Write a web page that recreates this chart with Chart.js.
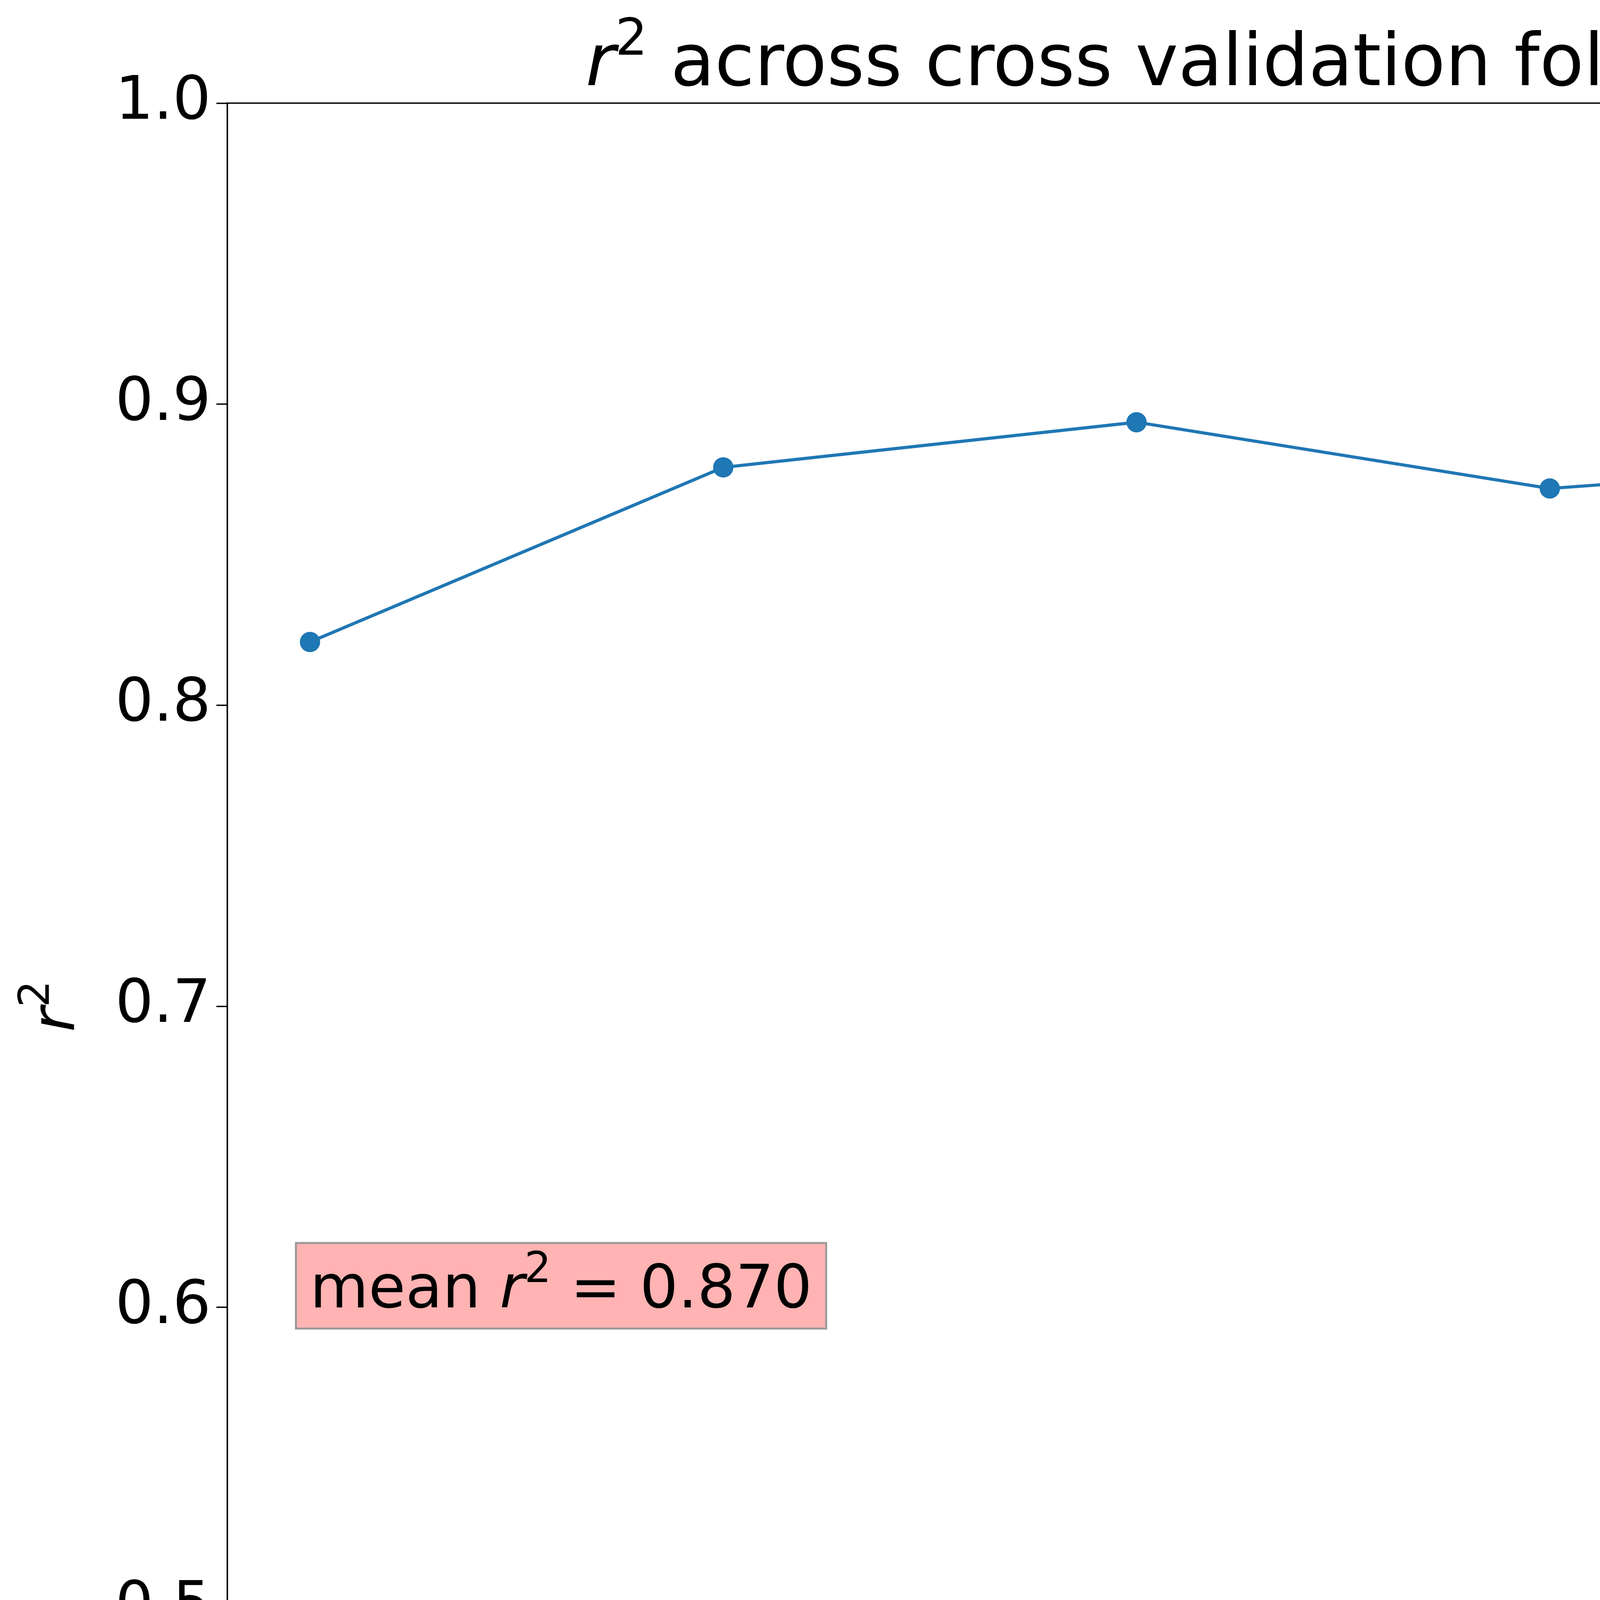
<!DOCTYPE html>
<html>
<head>
<meta charset="utf-8">
<script src="https://cdn.jsdelivr.net/npm/chart.js@4/dist/chart.umd.min.js"></script>
<style>
  html, body { margin: 0; padding: 0; background: #fff; overflow: hidden; }
  #wrap { width: 5289px; height: 5359px; }
  #myChart { width: 5289px !important; height: 5359px !important; display: block; }
</style>
</head>
<body>
<div id="wrap"><canvas id="myChart" width="5289" height="5359"></canvas></div>
<script>
// data
const folds = [0, 1, 2, 3, 4];
const r2Values = [0.821, 0.879, 0.894, 0.872, 0.882];
const xTicks = [0, 1, 2, 3, 4];
const yTicks = [0.4, 0.5, 0.6, 0.7, 0.8, 0.9, 1.0];
const meanLabel = ' = 0.870';

const FONT = '"DejaVu Sans", sans-serif';
const BASE = 154;

// draws text with italic r and superscript 2, like mathtext
const drawMath = (ctx, parts, x, y, size, align) => {
  const fontFor = (p) => {
    const s = p.sup ? size * 0.7 : size;
    return (p.it ? 'italic ' : '') + s + 'px ' + FONT;
  };
  let total = 0;
  parts.forEach((p) => { ctx.font = fontFor(p); total += ctx.measureText(p.t).width; });
  let cx = align === 'center' ? x - total / 2 : x;
  ctx.textAlign = 'left';
  ctx.textBaseline = 'alphabetic';
  ctx.fillStyle = '#000';
  parts.forEach((p) => {
    ctx.font = fontFor(p);
    ctx.fillText(p.t, cx, p.sup ? y - size * 0.42 : y);
    cx += ctx.measureText(p.t).width;
  });
  return total;
};

const extras = {
  id: 'extras',
  afterDraw(chart) {
    const ctx = chart.ctx;
    const a = chart.chartArea;
    const xs = chart.scales.x, ys = chart.scales.y;
    ctx.save();
    // frame
    ctx.strokeStyle = '#000';
    ctx.lineWidth = 3.5;
    ctx.strokeRect(a.left, a.top, a.right - a.left, a.bottom - a.top);

    // title
    drawMath(ctx, [{t: 'r', it: true}, {t: '2', sup: true}, {t: ' across cross validation folds'}],
      (a.left + a.right) / 2, 218, 185, 'center');

    // x label
    drawMath(ctx, [{t: 'Cross validation folds'}], (a.left + a.right) / 2, 5270, BASE, 'center');

    // y label
    ctx.save();
    ctx.translate(190, (a.top + a.bottom) / 2);
    ctx.rotate(-Math.PI / 2);
    drawMath(ctx, [{t: 'r', it: true}, {t: '2', sup: true}], 0, 0, BASE, 'center');
    ctx.restore();

    // mean annotation
    const parts = [{t: 'mean '}, {t: 'r', it: true}, {t: '2', sup: true}, {t: meanLabel}];
    const tx = xs.getPixelForValue(0);
    const ty = ys.getPixelForValue(0.6);
    let w = 0;
    parts.forEach((p) => {
      ctx.font = (p.it ? 'italic ' : '') + (p.sup ? BASE * 0.7 : BASE) + 'px ' + FONT;
      w += ctx.measureText(p.t).width;
    });
    const pad = 36;
    const boxTop = ty - BASE * 0.9 - pad + 10;
    const boxBot = ty + BASE * 0.12 + pad;
    ctx.fillStyle = '#ffb3b3';
    ctx.fillRect(tx - pad, boxTop, w + 2 * pad, boxBot - boxTop);
    ctx.strokeStyle = '#999';
    ctx.lineWidth = 5;
    ctx.strokeRect(tx - pad, boxTop, w + 2 * pad, boxBot - boxTop);
    drawMath(ctx, parts, tx, ty, BASE, 'left');
    ctx.restore();
  }
};

const ctx = document.getElementById('myChart');

new Chart(ctx, {
  type: 'line',
  data: {
    datasets: [{
      data: folds.map((f, i) => ({x: f, y: r2Values[i]})),
      borderColor: '#1f77b4',
      backgroundColor: '#1f77b4',
      borderWidth: 8,
      pointRadius: 26,
      pointBorderWidth: 0,
      tension: 0
    }]
  },
  options: {
    responsive: false,
    devicePixelRatio: 1,
    animation: false,
    layout: { padding: { top: 264, right: 52, left: 0, bottom: 0 } },
    plugins: { legend: { display: false }, tooltip: { enabled: false } },
    scales: {
      x: {
        type: 'linear',
        min: -0.2,
        max: 4.2,
        afterBuildTicks: (s) => { s.ticks = xTicks.map((v) => ({value: v})); },
        afterFit: (s) => { s.height = 471; },
        grid: { drawOnChartArea: false, drawTicks: true, tickLength: 28, tickColor: '#000', tickWidth: 3.5 },
        border: { display: true, color: '#000', width: 3.5 },
        ticks: { color: '#000', font: { family: FONT, size: BASE }, padding: 14, maxRotation: 0 }
      },
      y: {
        type: 'linear',
        min: 0.4,
        max: 1.0,
        afterBuildTicks: (s) => { s.ticks = yTicks.map((v) => ({value: v})); },
        afterFit: (s) => { s.width = 582; },
        grid: { drawOnChartArea: false, drawTicks: true, tickLength: 28, tickColor: '#000', tickWidth: 3.5 },
        border: { display: true, color: '#000', width: 3.5 },
        ticks: { color: '#000', font: { family: FONT, size: BASE }, padding: 14,
          callback: (v) => Number(v).toFixed(1) }
      }
    }
  },
  plugins: [extras]
});
</script>
</body>
</html>
